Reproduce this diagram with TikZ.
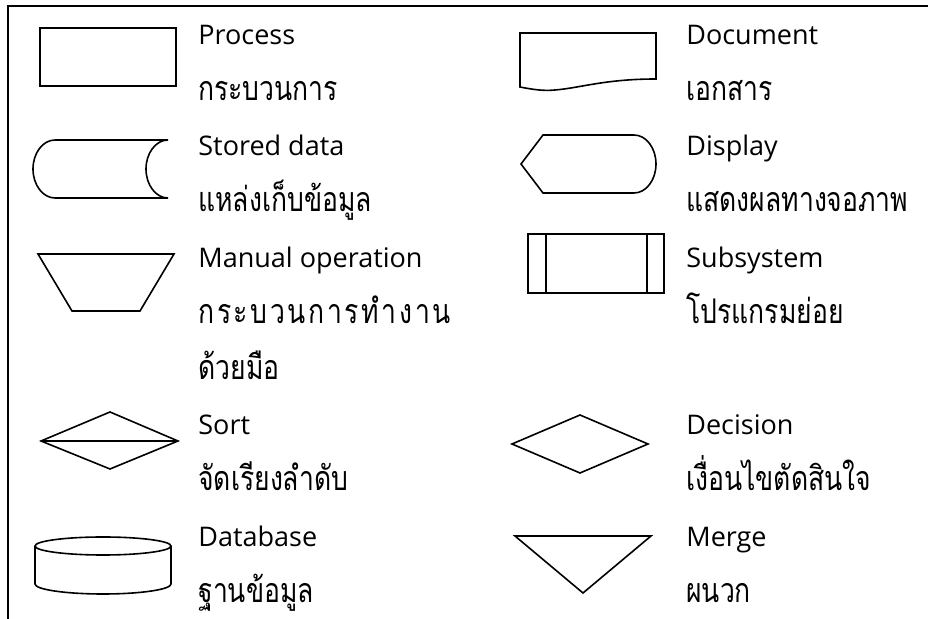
\documentclass[tikz,border=0pt]{standalone}
\usepackage{graphicx}
\usepackage{fontspec}
\setmainfont{Open Sans}
\newfontfamily\thai[Script=Thai]{Loma}
\newcommand{\thtext}[1]{\scalebox{0.78}[1]{\thai\fontsize{17}{19}\selectfont #1}}
\begin{document}
\begin{tikzpicture}[x=0.5pt,y=-0.5pt,
  shp/.style={draw=black, line width=0.8pt, line join=miter},
  lat/.style={anchor=base west, inner sep=0, font=\fontsize{13.5}{15}\selectfont},
  th/.style={anchor=base west, inner sep=0}]
\useasboundingbox (0,0) rectangle (928,619);
\draw[line width=1pt] (8,619) -- (8,6) -- (928,6);
% shapes left
\draw[shp] (40,28) rectangle (176,86);
\draw[shp] (168,140) -- (55,140) .. controls (42.85,140) and (33,153) .. (33,169)
  .. controls (33,185) and (42.85,198) .. (55,198) -- (168,198)
  .. controls (155.85,198) and (146,185) .. (146,169)
  .. controls (146,153) and (155.85,140) .. (168,140);
\draw[shp] (38,254) -- (174,254) -- (140,311) -- (72,311) -- cycle;
\draw[shp] (41,441) -- (110,412) -- (178,441) -- (110,469) -- cycle;
\draw[shp] (41,441) -- (178,441);
\draw[shp] (103,546) ellipse [x radius=68, y radius=9];
\draw[shp] (35,546) -- (35,584) .. controls (35,589.5) and (65.4,594) .. (103,594)
  .. controls (140.6,594) and (171,589.5) .. (171,584) -- (171,546);
% shapes right
\draw[shp] (520,87) -- (520,33) -- (656,33) -- (656,79)
  .. controls (605,79) and (580,88) .. (555,90)
  .. controls (545,91) and (535,90) .. (520,87) -- cycle;
\draw[shp] (521,164) -- (543,135) -- (634,135) .. controls (646.15,135) and (656,148) .. (656,164)
  .. controls (656,180) and (646.15,193) .. (634,193) -- (543,193) -- cycle;
\draw[shp] (528,234) rectangle (664,293);
\draw[shp] (546,234) -- (546,293);
\draw[shp] (647,234) -- (647,293);
\draw[shp] (512,444) -- (580,415) -- (648,444) -- (580,473) -- cycle;
\draw[shp] (515,536) -- (651,536) -- (583,593) -- cycle;
% texts left
\node[lat] (t1) at (198,44.3) {Process};
\node[th]  (t2) at (198,100.1) {\thtext{กระบวนการ}};
\node[lat] (t3) at (198,155.9) {Stored data};
\node[th]  (t4) at (198,211.7) {\thtext{แหล่งเก็บข้อมูล}};
\node[lat] (t5) at (198,267.5) {Manual operation};
\node[th]  (t6) at (198,323.3) {\thtext{\addfontfeature{LetterSpace=10}กระบวนการทำงาน}};
\node[th]  (t7) at (198,379.1) {\thtext{ด้วยมือ}};
\node[lat] (t8) at (198,434.9) {Sort};
\node[th]  (t9) at (198,490.7) {\thtext{จัดเรียงลำดับ}};
\node[lat] (t10) at (198,546.5) {Database};
\node[th]  (t11) at (198,602.3) {\thtext{ฐานข้อมูล}};
% texts right
\node[lat] (r1) at (686,44.3) {Document};
\node[th]  (r2) at (686,100.1) {\thtext{เอกสาร}};
\node[lat] (r3) at (686,155.9) {Display};
\node[th]  (r4) at (686,211.7) {\thtext{แสดงผลทางจอภาพ}};
\node[lat] (r5) at (686,267.5) {Subsystem};
\node[th]  (r6) at (686,323.3) {\thtext{โปรแกรมย่อย}};
\node[lat] (r8) at (686,434.9) {Decision};
\node[th]  (r9) at (686,490.7) {\thtext{เงื่อนไขตัดสินใจ}};
\node[lat] (r10) at (686,546.5) {Merge};
\node[th]  (r11) at (686,602.3) {\thtext{ผนวก}};
\end{tikzpicture}
\end{document}
